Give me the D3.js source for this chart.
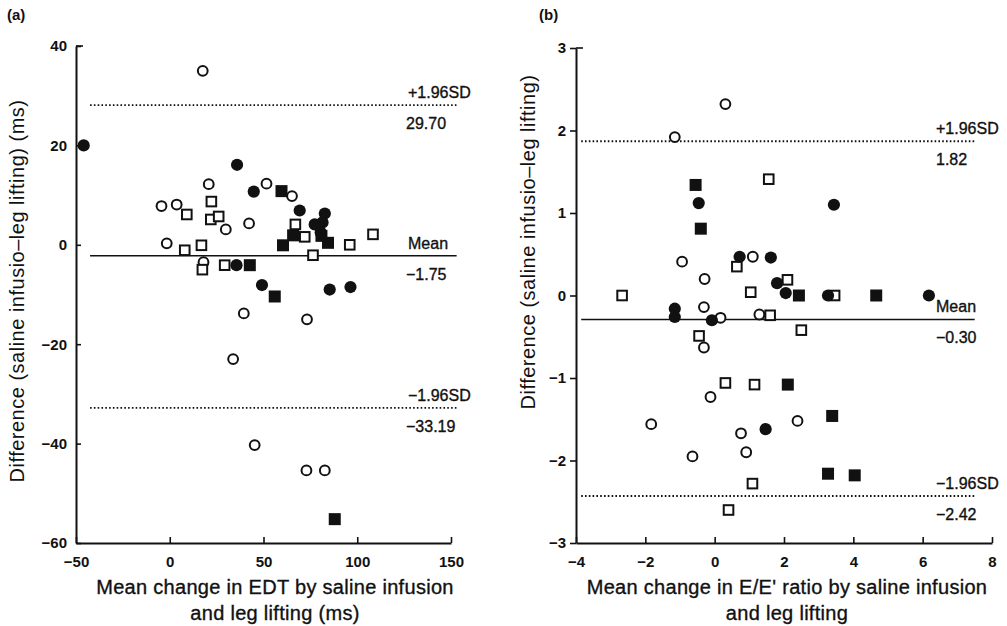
<!DOCTYPE html>
<html><head><meta charset="utf-8">
<script src="https://cdn.jsdelivr.net/npm/d3@7"></script>
<style>
html,body{margin:0;padding:0;background:#fff;}
svg{display:block;}
text{font-family:"Liberation Sans",Arial,Helvetica,sans-serif;fill:#111;}
.heavy{stroke:#111;stroke-width:0.35px;}
</style></head>
<body>
<svg id="chart" width="1007" height="626"></svg>
<script>
// ---------- DATA ----------
// Panel (a): EDT  [mean change, difference]
const aOpenCircles = [[17.6,35.0],[20.8,12.2],[51.6,12.3],[65.2,9.8],[-4.4,7.8],[3.7,8.1],[29.9,3.1],[42.3,4.3],[-1.6,0.3],[18,-3.5],[39.5,-13.8],[73.2,-15.0],[33.8,-23.0],[45.3,-40.3],[72.9,-45.4],[82.7,-45.4]];
const aFilledCircles = [[-45.9,20.0],[35.9,16.1],[44.8,10.7],[69.3,6.9],[82.7,6.3],[77.3,4.1],[81.5,4.5],[80.5,2.5],[35.6,-4.1],[49.2,-8.1],[85.3,-9.0],[96.4,-8.5]];
const aOpenSquares = [[22.2,8.7],[9.1,6.1],[21.9,5.1],[26.1,5.7],[67.0,4.1],[72,1.6],[96,0],[108.4,2.1],[76.4,-2.1],[16.9,-0.1],[8,-1.1],[17.4,-5],[29.3,-4.1]];
const aFilledSquares = [[59.6,10.8],[65.8,1.9],[60.4,-0.1],[84.4,0.4],[80.9,1.8],[42.7,-4.1],[56,-10.4],[88,-55.2]];
const aLineValues = [28.1,-2.2,-32.8];           // drawn positions of +1.96SD, mean, -1.96SD
const aLineNames = ["+1.96SD","Mean","\u22121.96SD"];
const aLineLabels = ["29.70","\u22121.75","\u221233.19"];
const aXTicks = [-50,0,50,100,150];
const aYTicks = [40,20,0,-20,-40,-60];

// Panel (b): E/E' ratio
const bOpenCircles = [[0.31,2.32],[-1.15,1.92],[-0.94,0.41],[-0.29,0.2],[1.1,0.47],[-0.31,-0.14],[0.17,-0.27],[1.29,-0.23],[-0.31,-0.63],[-0.12,-1.23],[-1.83,-1.56],[0.76,-1.67],[0.91,-1.9],[-0.64,-1.95],[2.39,-1.52]];
const bFilledCircles = [[-0.46,1.12],[0.72,0.47],[1.62,0.46],[3.44,1.10],[1.8,0.15],[2.05,0.03],[3.27,0.0],[6.18,0.0],[-1.15,-0.16],[-1.15,-0.26],[-0.08,-0.30],[1.47,-1.62]];
const bOpenSquares = [[1.56,1.41],[0.64,0.35],[2.1,0.19],[1.04,0.04],[3.46,0.0],[-2.67,0.0],[1.6,-0.24],[2.5,-0.42],[-0.45,-0.49],[0.31,-1.06],[1.15,-1.08],[1.09,-2.28],[0.4,-2.6]];
const bFilledSquares = [[-0.55,1.34],[-0.40,0.81],[2.43,0.0],[4.66,0.0],[2.11,-1.08],[3.39,-1.46],[3.27,-2.16],[4.04,-2.18]];
const bLineValues = [1.87,-0.29,-2.43];
const bLineNames = ["+1.96SD","Mean","\u22121.96SD"];
const bLineLabels = ["1.82","\u22120.30","\u22122.42"];
const bXTicks = [-4,-2,0,2,4,6,8];
const bYTicks = [3,2,1,0,-1,-2,-3];

// ---------- DRAW ----------
const svg = d3.select("#chart");

function panel(cfg){
  const g = svg.append("g");
  const x = d3.scaleLinear().domain(cfg.xDomain).range(cfg.xRange);
  const y = d3.scaleLinear().domain(cfg.yDomain).range(cfg.yRange);

  // reference lines
  cfg.lineValues.forEach((v,i)=>{
    g.append("line")
      .attr("x1",x(cfg.lineX[0])).attr("x2",x(cfg.lineX[1]))
      .attr("y1",y(v)).attr("y2",y(v))
      .attr("stroke","#111")
      .attr("stroke-width", i===1 ? 1.4 : 1.8)
      .attr("stroke-dasharray", i===1 ? null : "1.6,2.2");
    g.append("text").attr("class","heavy").attr("x",cfg.nameX).attr("y",y(v)-7)
      .attr("font-size",16).text(cfg.lineNames[i]);
    g.append("text").attr("class","heavy").attr("x",cfg.labelX).attr("y",y(v)+24)
      .attr("font-size",16).text(cfg.lineLabels[i]);
  });

  // axes
  const yAx = g.append("g").attr("transform",`translate(${cfg.xRange[0]},0)`)
    .call(d3.axisLeft(y).tickValues(cfg.yTicks).tickSizeInner(cfg.yTickSize).tickSizeOuter(0).tickPadding(cfg.yPad)
      .tickFormat(d=>d<0?"\u2212"+Math.abs(d):d));
  const xAx = g.append("g").attr("transform",`translate(0,${cfg.yRange[0]})`)
    .call(d3.axisBottom(x).tickValues(cfg.xTicks).tickSizeInner(-6).tickSizeOuter(0).tickPadding(13)
      .tickFormat(d=>d<0?"\u2212"+Math.abs(d):d));
  [yAx,xAx].forEach(a=>{
    a.select(".domain").attr("stroke","#111").attr("stroke-width",2);
    a.selectAll(".tick line").attr("stroke","#111").attr("stroke-width",1.6);
    a.selectAll(".tick text").attr("font-size",15).attr("font-weight","bold")
      .attr("font-family",'"Liberation Sans",Arial,sans-serif').attr("fill","#111");
  });
  // inward top tick
  g.append("line").attr("x1",cfg.xRange[0]).attr("x2",cfg.xRange[0]+7)
    .attr("y1",y(cfg.yDomain[1])).attr("y2",y(cfg.yDomain[1]))
    .attr("stroke","#111").attr("stroke-width",1.6);

  // markers
  const mk = g.append("g");
  mk.selectAll(".oc").data(cfg.oc).join("circle")
    .attr("cx",d=>x(d[0])).attr("cy",d=>y(d[1])).attr("r",4.9)
    .attr("fill","#fff").attr("stroke","#111").attr("stroke-width",2);
  mk.selectAll(".os").data(cfg.os).join("rect")
    .attr("x",d=>x(d[0])-4.8).attr("y",d=>y(d[1])-4.8).attr("width",9.6).attr("height",9.6)
    .attr("fill","#fff").attr("stroke","#111").attr("stroke-width",2);
  mk.selectAll(".fc").data(cfg.fc).join("circle")
    .attr("cx",d=>x(d[0])).attr("cy",d=>y(d[1])).attr("r",6.1)
    .attr("fill","#111");
  mk.selectAll(".fs").data(cfg.fs).join("rect")
    .attr("x",d=>x(d[0])-6).attr("y",d=>y(d[1])-6).attr("width",12).attr("height",12)
    .attr("fill","#111");

  // titles
  const xt = g.append("text").attr("class","heavy").attr("text-anchor","middle").attr("font-size",20).attr("letter-spacing",0.3);
  cfg.xTitle.forEach((t,i)=>xt.append("tspan").attr("x",cfg.xTitleX).attr("y",594+i*26).text(t));
  g.append("text").attr("text-anchor","middle").attr("font-size",20).attr("letter-spacing",0.5)
    .attr("transform",`translate(${cfg.yTitleX},${cfg.yTitleY}) rotate(-90)`).text(cfg.yTitle);
  g.append("text").attr("x",cfg.tagX).attr("y",20).attr("font-size",15).attr("font-weight","bold").text(cfg.tag);
}

panel({
  xDomain:[-50,150], xRange:[76,451], yDomain:[-60,40], yRange:[543,46],
  lineX:[-42.5,153], lineValues:aLineValues, lineNames:aLineNames, lineLabels:aLineLabels,
  nameX:408, labelX:406,
  xTicks:aXTicks, yTicks:aYTicks, yTickSize:-5, yPad:9,
  oc:aOpenCircles, fc:aFilledCircles, os:aOpenSquares, fs:aFilledSquares,
  xTitle:["Mean change in EDT by saline infusion","and leg lifting (ms)"], xTitleX:275,
  yTitle:"Difference (saline infusio\u2013leg lifting) (ms)", yTitleX:24, yTitleY:291,
  tag:"(a)", tagX:7
});
panel({
  xDomain:[-4,8], xRange:[576,992], yDomain:[-3,3], yRange:[543,48],
  lineX:[-3.85,7.5], lineValues:bLineValues, lineNames:bLineNames, lineLabels:bLineLabels,
  nameX:936, labelX:936,
  xTicks:bXTicks, yTicks:bYTicks, yTickSize:6, yPad:4,
  oc:bOpenCircles, fc:bFilledCircles, os:bOpenSquares, fs:bFilledSquares,
  xTitle:["Mean change in E/E' ratio by saline infusion","and leg lifting"], xTitleX:787,
  yTitle:"Difference (saline infusio\u2013leg lifting)", yTitleX:535, yTitleY:242,
  tag:"(b)", tagX:539
});
</script>
</body></html>
